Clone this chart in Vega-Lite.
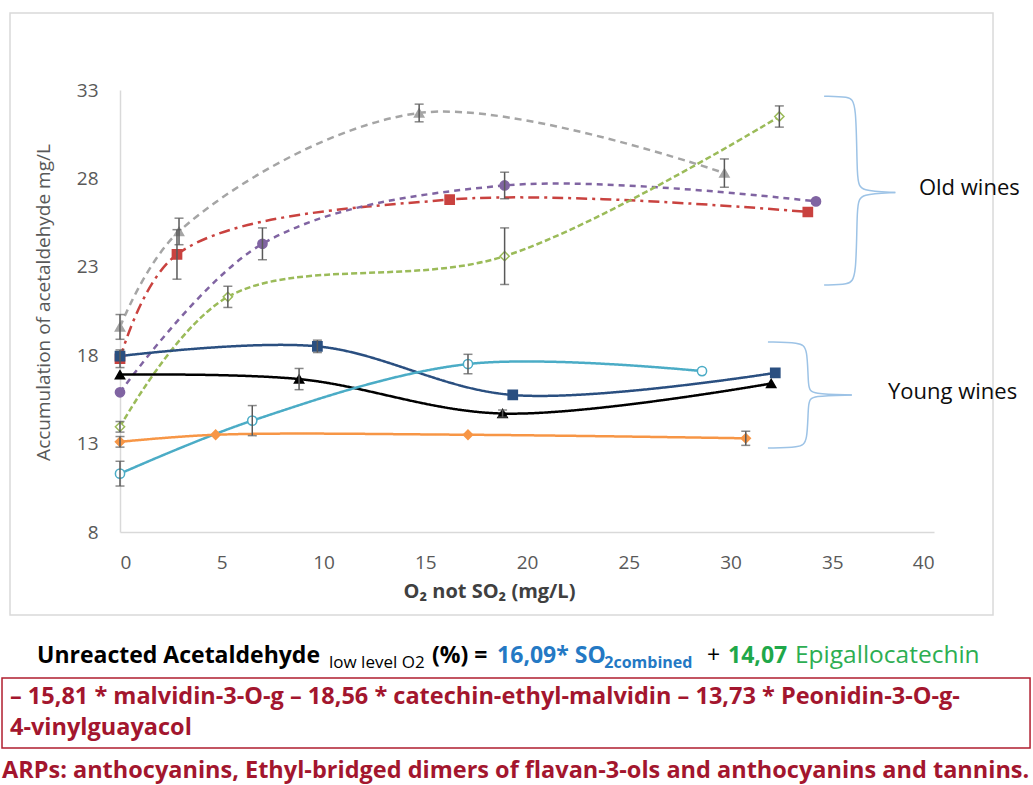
{
  "$schema": "https://vega.github.io/schema/vega-lite/v6.json",
  "autosize": "none",
  "width": 814,
  "height": 442,
  "padding": {"left": 120, "top": 90, "right": 99, "bottom": 253},
  "background": "white",
  "config": {"view": {"stroke": null}},
  "datasets": {
    "wines": [
      {"series": "Old 1", "o2": 0, "acet": 19.6, "err": 0.7},
      {"series": "Old 1", "o2": 2.9, "acet": 25.0, "err": 0.75},
      {"series": "Old 1", "o2": 14.7, "acet": 31.7, "err": 0.5},
      {"series": "Old 1", "o2": 29.7, "acet": 28.3, "err": 0.8},
      {"series": "Old 2", "o2": 0, "acet": 17.8, "err": 0.5},
      {"series": "Old 2", "o2": 2.8, "acet": 23.7, "err": 1.4},
      {"series": "Old 2", "o2": 16.2, "acet": 26.8, "err": 0},
      {"series": "Old 2", "o2": 33.8, "acet": 26.1, "err": 0},
      {"series": "Old 3", "o2": 0, "acet": 15.9, "err": 0},
      {"series": "Old 3", "o2": 7.0, "acet": 24.3, "err": 0.9},
      {"series": "Old 3", "o2": 18.9, "acet": 27.6, "err": 0.75},
      {"series": "Old 3", "o2": 34.2, "acet": 26.7, "err": 0},
      {"series": "Old 4", "o2": 0, "acet": 13.95, "err": 0.3},
      {"series": "Old 4", "o2": 5.3, "acet": 21.3, "err": 0.6},
      {"series": "Old 4", "o2": 18.9, "acet": 23.6, "err": 1.6},
      {"series": "Old 4", "o2": 32.4, "acet": 31.5, "err": 0.6},
      {"series": "Young 1", "o2": 0, "acet": 17.95, "err": 0},
      {"series": "Young 1", "o2": 9.7, "acet": 18.5, "err": 0.35},
      {"series": "Young 1", "o2": 19.3, "acet": 15.75, "err": 0},
      {"series": "Young 1", "o2": 32.2, "acet": 17.0, "err": 0},
      {"series": "Young 2", "o2": 0, "acet": 16.9, "err": 0},
      {"series": "Young 2", "o2": 8.8, "acet": 16.65, "err": 0.6},
      {"series": "Young 2", "o2": 18.8, "acet": 14.7, "err": 0.2},
      {"series": "Young 2", "o2": 32.0, "acet": 16.4, "err": 0},
      {"series": "Young 3", "o2": 0, "acet": 11.3, "err": 0.7},
      {"series": "Young 3", "o2": 6.5, "acet": 14.3, "err": 0.85},
      {"series": "Young 3", "o2": 17.1, "acet": 17.5, "err": 0.55},
      {"series": "Young 3", "o2": 28.6, "acet": 17.1, "err": 0},
      {"series": "Young 4", "o2": 0, "acet": 13.1, "err": 0.3},
      {"series": "Young 4", "o2": 4.7, "acet": 13.5, "err": 0},
      {"series": "Young 4", "o2": 17.1, "acet": 13.5, "err": 0},
      {"series": "Young 4", "o2": 30.75, "acet": 13.3, "err": 0.4}
    ],
    "braces": [
      {"part": "old-top", "seq": 1, "bx": 34.6, "by": 32.65},
      {"part": "old-top", "seq": 2, "bx": 35.8, "by": 32.62},
      {"part": "old-top", "seq": 3, "bx": 36.2, "by": 32.4},
      {"part": "old-top", "seq": 4, "bx": 36.2, "by": 27.8},
      {"part": "old-top", "seq": 5, "bx": 36.4, "by": 27.28},
      {"part": "old-top", "seq": 6, "bx": 38.1, "by": 27.2},
      {"part": "old-bottom", "seq": 1, "bx": 38.1, "by": 27.2},
      {"part": "old-bottom", "seq": 2, "bx": 36.4, "by": 27.12},
      {"part": "old-bottom", "seq": 3, "bx": 36.2, "by": 26.6},
      {"part": "old-bottom", "seq": 4, "bx": 36.2, "by": 22.3},
      {"part": "old-bottom", "seq": 5, "bx": 35.8, "by": 22.0},
      {"part": "old-bottom", "seq": 6, "bx": 34.6, "by": 21.97},
      {"part": "young-top", "seq": 1, "bx": 31.84, "by": 18.75},
      {"part": "young-top", "seq": 2, "bx": 33.4, "by": 18.72},
      {"part": "young-top", "seq": 3, "bx": 33.8, "by": 18.45},
      {"part": "young-top", "seq": 4, "bx": 33.8, "by": 16.1},
      {"part": "young-top", "seq": 5, "bx": 34.0, "by": 15.8},
      {"part": "young-top", "seq": 6, "bx": 35.96, "by": 15.75},
      {"part": "young-bottom", "seq": 1, "bx": 35.96, "by": 15.75},
      {"part": "young-bottom", "seq": 2, "bx": 34.0, "by": 15.7},
      {"part": "young-bottom", "seq": 3, "bx": 33.8, "by": 15.4},
      {"part": "young-bottom", "seq": 4, "bx": 33.8, "by": 13.05},
      {"part": "young-bottom", "seq": 5, "bx": 33.4, "by": 12.78},
      {"part": "young-bottom", "seq": 6, "bx": 31.84, "by": 12.75}
    ]
  },
  "layer": [
    {
      "data": {"values": [{}]},
      "mark": {"type": "rect", "fill": null, "stroke": "#D9D9D9", "strokeWidth": 1.5, "clip": false},
      "encoding": {
        "x": {"datum": -5.405, "type": "quantitative"},
        "x2": {"datum": 42.9},
        "y": {"datum": 37.355, "type": "quantitative"},
        "y2": {"datum": 3.305}
      }
    },
    {
      "data": {"name": "wines"},
      "mark": {"type": "line", "interpolate": "catmull-rom", "clip": false},
      "encoding": {
        "x": {
          "field": "o2", "type": "quantitative",
          "title": "O₂ not SO₂ (mg/L)",
          "scale": {"domain": [0, 40], "nice": false, "zero": false},
          "axis": {
            "values": [0, 5, 10, 15, 20, 25, 30, 35, 40],
            "ticks": false, "grid": false,
            "domainColor": "#D9D9D9", "domainWidth": 1.5,
            "labelFont": "Open Sans", "labelFontSize": 19, "labelColor": "#595959",
            "labelPadding": 21,
            "titleFont": "Open Sans", "titleFontSize": 20, "titleFontWeight": "bold",
            "titleColor": "#404040", "titlePadding": 9, "titleX": 369
          }
        },
        "y": {
          "field": "acet", "type": "quantitative",
          "title": "Accumulation of  acetaldehyde mg/L",
          "scale": {"domain": [8, 33], "nice": false, "zero": false},
          "axis": {
            "values": [8, 13, 18, 23, 28, 33],
            "ticks": false, "grid": false,
            "domainColor": "#D9D9D9", "domainWidth": 1.5,
            "labelFont": "Open Sans", "labelFontSize": 19, "labelColor": "#595959",
            "labelPadding": 22,
            "titleFont": "Open Sans", "titleFontSize": 19, "titleFontWeight": "normal",
            "titleColor": "#595959", "titlePadding": 23, "titleY": 212
          }
        },
        "detail": {"field": "series"},
        "stroke": {
          "field": "series", "type": "nominal", "legend": null,
          "scale": {
            "domain": ["Old 1", "Old 2", "Old 3", "Old 4", "Young 1", "Young 2", "Young 3", "Young 4"],
            "range": ["#A5A5A5", "#C9423F", "#8064A2", "#9BBB59", "#2A4F80", "#000000", "#4BACC6", "#F79646"]
          }
        },
        "strokeDash": {
          "field": "series", "type": "nominal", "legend": null,
          "scale": {
            "domain": ["Old 1", "Old 2", "Old 3", "Old 4", "Young 1", "Young 2", "Young 3", "Young 4"],
            "range": [[7, 5], [11, 5, 3, 5], [6, 5], [6, 3], [1, 0], [1, 0], [1, 0], [1, 0]]
          }
        },
        "strokeWidth": {
          "field": "series", "type": "nominal", "legend": null,
          "scale": {
            "domain": ["Old 1", "Old 2", "Old 3", "Old 4", "Young 1", "Young 2", "Young 3", "Young 4"],
            "range": [2.5, 2.5, 2, 3, 2.5, 2.5, 1.5, 2.5]
          }
        }
      }
    },
    {
      "data": {"name": "wines"},
      "mark": {"type": "point", "filled": false, "strokeWidth": 1.5, "size": 85, "opacity": 1, "clip": false},
      "encoding": {
        "x": {"field": "o2", "type": "quantitative", "title": "O₂ not SO₂ (mg/L)"},
        "y": {"field": "acet", "type": "quantitative", "title": "Accumulation of  acetaldehyde mg/L"},
        "shape": {
          "field": "series", "type": "nominal", "legend": null,
          "scale": {
            "domain": ["Old 1", "Old 2", "Old 3", "Old 4", "Young 1", "Young 2", "Young 3", "Young 4"],
            "range": ["triangle-up", "square", "circle", "diamond", "square", "triangle-up", "circle", "diamond"]
          }
        },
        "stroke": {"field": "series", "type": "nominal", "legend": null},
        "fill": {
          "field": "series", "type": "nominal", "legend": null,
          "scale": {
            "domain": ["Old 1", "Old 2", "Old 3", "Old 4", "Young 1", "Young 2", "Young 3", "Young 4"],
            "range": ["#A5A5A5", "#C9423F", "#8064A2", "#FFFFFF", "#2A4F80", "#000000", "#FFFFFF", "#F79646"]
          }
        }
      }
    },
    {
      "data": {"name": "wines"},
      "transform": [{"filter": "datum.err > 0"}],
      "mark": {"type": "errorbar", "color": "#595959", "ticks": {"size": 9, "thickness": 1.5}, "rule": {"strokeWidth": 1.5}, "clip": false},
      "encoding": {
        "x": {"field": "o2", "type": "quantitative", "title": "O₂ not SO₂ (mg/L)"},
        "y": {"field": "acet", "type": "quantitative", "title": "Accumulation of  acetaldehyde mg/L"},
        "yError": {"field": "err"}
      }
    },
    {
      "data": {"name": "braces"},
      "mark": {"type": "line", "interpolate": "basis", "stroke": "#9DC3E6", "strokeWidth": 1.5, "clip": false},
      "encoding": {
        "x": {"field": "bx", "type": "quantitative", "title": "O₂ not SO₂ (mg/L)"},
        "y": {"field": "by", "type": "quantitative", "title": "Accumulation of  acetaldehyde mg/L"},
        "detail": {"field": "part"},
        "order": {"field": "seq", "type": "quantitative"}
      }
    },
    {
      "data": {"values": [{"label": "Old wines", "lx": 39.26, "ly": 27.46}, {"label": "Young wines", "lx": 37.74, "ly": 15.92}]},
      "mark": {"type": "text", "align": "left", "baseline": "middle", "font": "Open Sans", "fontSize": 22, "color": "#0D0D0D", "clip": false},
      "encoding": {
        "x": {"field": "lx", "type": "quantitative", "title": "O₂ not SO₂ (mg/L)"},
        "y": {"field": "ly", "type": "quantitative", "title": "Accumulation of  acetaldehyde mg/L"},
        "text": {"field": "label"}
      }
    },
    {
      "data": {"values": [{}]},
      "mark": {"type": "rect", "fill": null, "stroke": "#B01E2F", "strokeWidth": 1.5, "clip": false},
      "encoding": {
        "x": {"datum": -5.798, "type": "quantitative"},
        "x2": {"datum": 44.72},
        "y": {"datum": -0.258, "type": "quantitative"},
        "y2": {"datum": -4.217}
      }
    },
    {
      "data": {"values": [{"t": "Unreacted Acetaldehyde", "tx": -4.079}, {"t": "(%) =", "tx": 15.33}]},
      "mark": {"type": "text", "align": "left", "baseline": "alphabetic", "font": "Open Sans", "fontSize": 23, "fontWeight": "bold", "color": "#000000", "clip": false},
      "encoding": {
        "x": {"field": "tx", "type": "quantitative", "title": "O₂ not SO₂ (mg/L)"},
        "y": {"datum": 0.59, "type": "quantitative"},
        "text": {"field": "t"}
      }
    },
    {
      "data": {"values": [{"t": "low level O2", "tx": 10.27}]},
      "mark": {"type": "text", "align": "left", "baseline": "alphabetic", "font": "Open Sans", "fontSize": 17, "color": "#000000", "clip": false},
      "encoding": {
        "x": {"field": "tx", "type": "quantitative", "title": "O₂ not SO₂ (mg/L)"},
        "y": {"datum": 0.308, "type": "quantitative"},
        "text": {"field": "t"}
      }
    },
    {
      "data": {"values": [{"t": "16,09* SO", "tx": 18.53}]},
      "mark": {"type": "text", "align": "left", "baseline": "alphabetic", "font": "Open Sans", "fontSize": 23, "fontWeight": "bold", "color": "#2479C4", "clip": false},
      "encoding": {
        "x": {"field": "tx", "type": "quantitative", "title": "O₂ not SO₂ (mg/L)"},
        "y": {"datum": 0.59, "type": "quantitative"},
        "text": {"field": "t"}
      }
    },
    {
      "data": {"values": [{"t": "2combined", "tx": 23.8}]},
      "mark": {"type": "text", "align": "left", "baseline": "alphabetic", "font": "Open Sans", "fontSize": 16, "fontWeight": "bold", "color": "#2479C4", "clip": false},
      "encoding": {
        "x": {"field": "tx", "type": "quantitative", "title": "O₂ not SO₂ (mg/L)"},
        "y": {"datum": 0.308, "type": "quantitative"},
        "text": {"field": "t"}
      }
    },
    {
      "data": {"values": [{"t": "+", "tx": 28.85}]},
      "mark": {"type": "text", "align": "left", "baseline": "alphabetic", "font": "Open Sans", "fontSize": 23, "color": "#000000", "clip": false},
      "encoding": {
        "x": {"field": "tx", "type": "quantitative", "title": "O₂ not SO₂ (mg/L)"},
        "y": {"datum": 0.59, "type": "quantitative"},
        "text": {"field": "t"}
      }
    },
    {
      "data": {"values": [{"t": "14,07", "tx": 29.88}]},
      "mark": {"type": "text", "align": "left", "baseline": "alphabetic", "font": "Open Sans", "fontSize": 23, "fontWeight": "bold", "color": "#1FA84A", "clip": false},
      "encoding": {
        "x": {"field": "tx", "type": "quantitative", "title": "O₂ not SO₂ (mg/L)"},
        "y": {"datum": 0.59, "type": "quantitative"},
        "text": {"field": "t"}
      }
    },
    {
      "data": {"values": [{"t": "Epigallocatechin", "tx": 33.17}]},
      "mark": {"type": "text", "align": "left", "baseline": "alphabetic", "font": "Open Sans", "fontSize": 24.5, "color": "#2DAE52", "clip": false},
      "encoding": {
        "x": {"field": "tx", "type": "quantitative", "title": "O₂ not SO₂ (mg/L)"},
        "y": {"datum": 0.59, "type": "quantitative"},
        "text": {"field": "t"}
      }
    },
    {
      "data": {"values": [
        {"t": "– 15,81 * malvidin-3-O-g – 18,56 * catechin-ethyl-malvidin – 13,73 * Peonidin-3-O-g-", "tx": -5.405, "ty": -1.729},
        {"t": "4-vinylguayacol", "tx": -5.405, "ty": -3.482},
        {"t": "ARPs: anthocyanins, Ethyl-bridged dimers of flavan-3-ols and anthocyanins and tannins.", "tx": -5.798, "ty": -5.914}
      ]},
      "mark": {"type": "text", "align": "left", "baseline": "alphabetic", "font": "Open Sans", "fontSize": 23.5, "fontWeight": "bold", "color": "#A3162E", "clip": false},
      "encoding": {
        "x": {"field": "tx", "type": "quantitative", "title": "O₂ not SO₂ (mg/L)"},
        "y": {"field": "ty", "type": "quantitative", "title": "Accumulation of  acetaldehyde mg/L"},
        "text": {"field": "t"}
      }
    }
  ]
}
